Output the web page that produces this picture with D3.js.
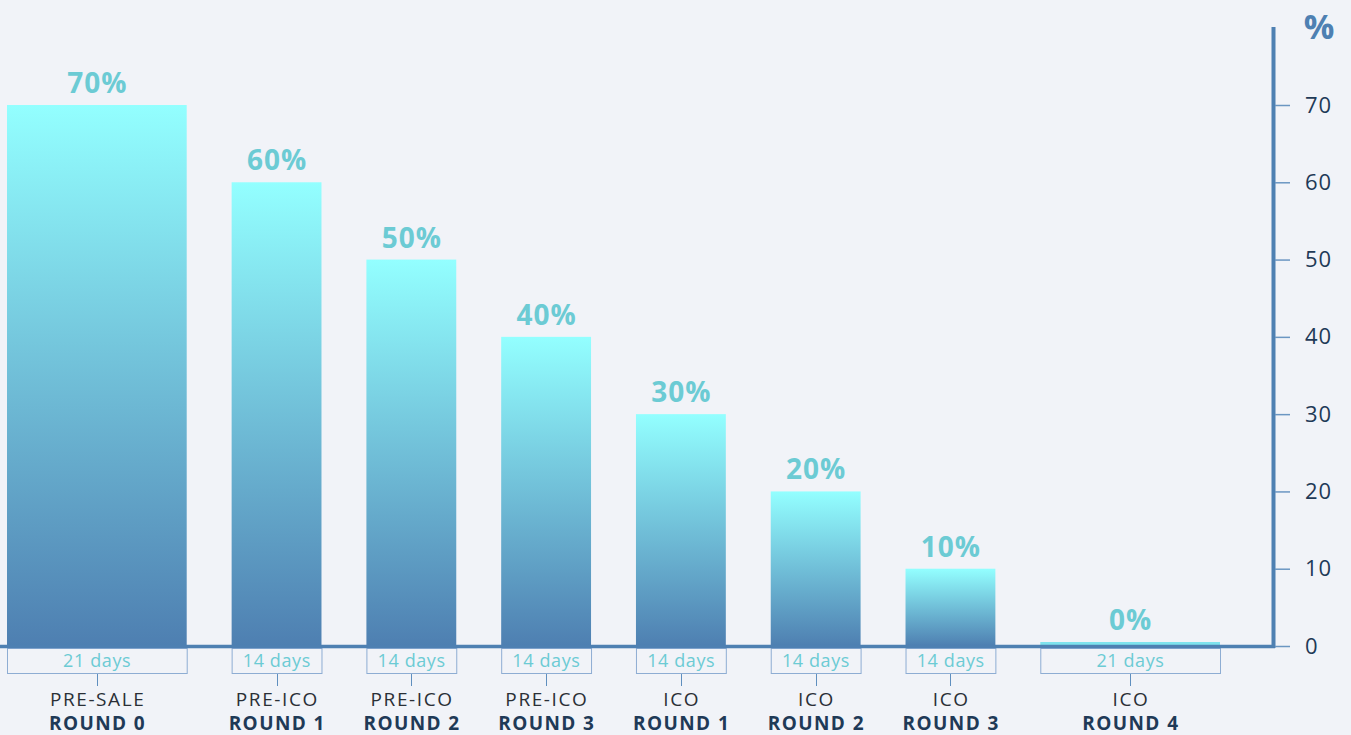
<!DOCTYPE html>
<html>
<head>
<meta charset="utf-8">
<script src="https://cdn.jsdelivr.net/npm/d3@7"></script>
<style>
  body { margin: 0; background: #f1f3f8; }
  svg { display: block; font-family: "Open Sans", sans-serif; }
</style>
</head>
<body>
<svg id="svg" width="1351" height="735"></svg>
<script>
const stages = ["PRE-SALE", "PRE-ICO", "PRE-ICO", "PRE-ICO", "ICO", "ICO", "ICO", "ICO"];
const rounds = ["ROUND 0", "ROUND 1", "ROUND 2", "ROUND 3", "ROUND 1", "ROUND 2", "ROUND 3", "ROUND 4"];
const bonus = [70, 60, 50, 40, 30, 20, 10, 0];
const days = [21, 14, 14, 14, 14, 14, 14, 21];
const yTicks = [0, 10, 20, 30, 40, 50, 60, 70];

const svg = d3.select("#svg");

// slot units: 21-day bars are twice as wide as 14-day ones, one unit gap between bars
const widthUnits = days.map(d => d === 21 ? 4 : 2);
const starts = [];
let acc = 0;
widthUnits.forEach(u => { starts.push(acc); acc += u + 1; });
const total = acc - 1;

const x = d3.scaleLinear().domain([0, total]).range([7, 1220]);
const y = d3.scaleLinear().domain([0, 70]).range([646, 105]);

const defs = svg.append("defs");
const grad = defs.append("linearGradient").attr("id", "barGrad")
    .attr("x1", 0).attr("y1", 0).attr("x2", 0).attr("y2", 1);
grad.append("stop").attr("offset", "0%").attr("stop-color", "#93ffff");
grad.append("stop").attr("offset", "100%").attr("stop-color", "#4e7fb1");

const data = bonus.map((v, i) => ({
    v, days: days[i], stage: stages[i], round: rounds[i],
    x0: x(starts[i]), x1: x(starts[i] + widthUnits[i])
}));
const cx = d => (d.x0 + d.x1) / 2;

// bars
svg.append("g").selectAll("rect").data(data).join("rect")
    .attr("x", d => d.x0)
    .attr("width", d => d.x1 - d.x0)
    .attr("y", d => d.v > 0 ? y(d.v) : y(0) - 4)
    .attr("height", d => d.v > 0 ? y(0) - y(d.v) : 4)
    .attr("fill", d => d.v > 0 ? "url(#barGrad)" : "#7fe3ee");

// value labels
svg.append("g").selectAll("text").data(data).join("text")
    .attr("x", d => cx(d) + 0.5)
    .attr("y", d => y(d.v) - 12 - (d.v === 0 ? 4 : 0))
    .attr("text-anchor", "middle")
    .attr("font-size", 28).attr("font-weight", "bold")
    .attr("letter-spacing", 1)
    .attr("fill", "#6ccbd4")
    .text(d => d.v + "%");

// day boxes
const boxes = svg.append("g");
boxes.selectAll("rect").data(data).join("rect")
    .attr("x", d => d.x0 + 0.5).attr("y", 648.5)
    .attr("width", d => d.x1 - d.x0).attr("height", 25)
    .attr("fill", "none").attr("stroke", "#8eadd3").attr("stroke-width", 1);
boxes.selectAll("text").data(data).join("text")
    .attr("x", d => cx(d) + 0.3).attr("y", 667)
    .attr("text-anchor", "middle").attr("font-size", 18)
    .attr("letter-spacing", 0.6)
    .attr("fill", "#6ccbd4")
    .text(d => d.days + " days");
boxes.selectAll("line").data(data).join("line")
    .attr("x1", d => Math.round(cx(d)) + 0.5)
    .attr("x2", d => Math.round(cx(d)) + 0.5)
    .attr("y1", 674).attr("y2", 686)
    .attr("stroke", "#5f8fbf").attr("stroke-width", 1);

// category labels
const cats = svg.append("g").attr("text-anchor", "middle");
cats.selectAll("text.stage").data(data).join("text").attr("class", "stage")
    .attr("x", d => cx(d) + 0.8).attr("y", 706)
    .attr("font-size", 19).attr("letter-spacing", 1.6).attr("fill", "#2a2f36")
    .text(d => d.stage);
cats.selectAll("text.round").data(data).join("text").attr("class", "round")
    .attr("x", d => cx(d) + 0.7).attr("y", 730)
    .attr("font-size", 19).attr("font-weight", "bold").attr("letter-spacing", 1.4)
    .attr("fill", "#1f3a57")
    .text(d => d.round);

// axes
const axisColor = "#4e80b2";
svg.append("line")
    .attr("x1", 0).attr("x2", 1275).attr("y1", 646.5).attr("y2", 646.5)
    .attr("stroke", axisColor).attr("stroke-width", 3.5);
svg.append("line")
    .attr("x1", 1273.5).attr("x2", 1273.5).attr("y1", 27).attr("y2", 648)
    .attr("stroke", axisColor).attr("stroke-width", 4);

const yAxis = svg.append("g").attr("transform", "translate(1275,0)")
    .call(d3.axisRight(y).tickValues(yTicks).tickSize(15).tickPadding(15));
yAxis.select(".domain").remove();
yAxis.selectAll(".tick line").attr("stroke", "#6b96c2").attr("stroke-width", 1.5);
yAxis.selectAll(".tick text")
    .attr("font-family", "Open Sans, sans-serif")
    .attr("font-size", 22).attr("letter-spacing", 1).attr("fill", "#1f3a57");

svg.append("text")
    .attr("x", 1319).attr("y", 39).attr("text-anchor", "middle")
    .attr("font-size", 34).attr("font-weight", "bold").attr("fill", axisColor)
    .text("%");
</script>
</body>
</html>
